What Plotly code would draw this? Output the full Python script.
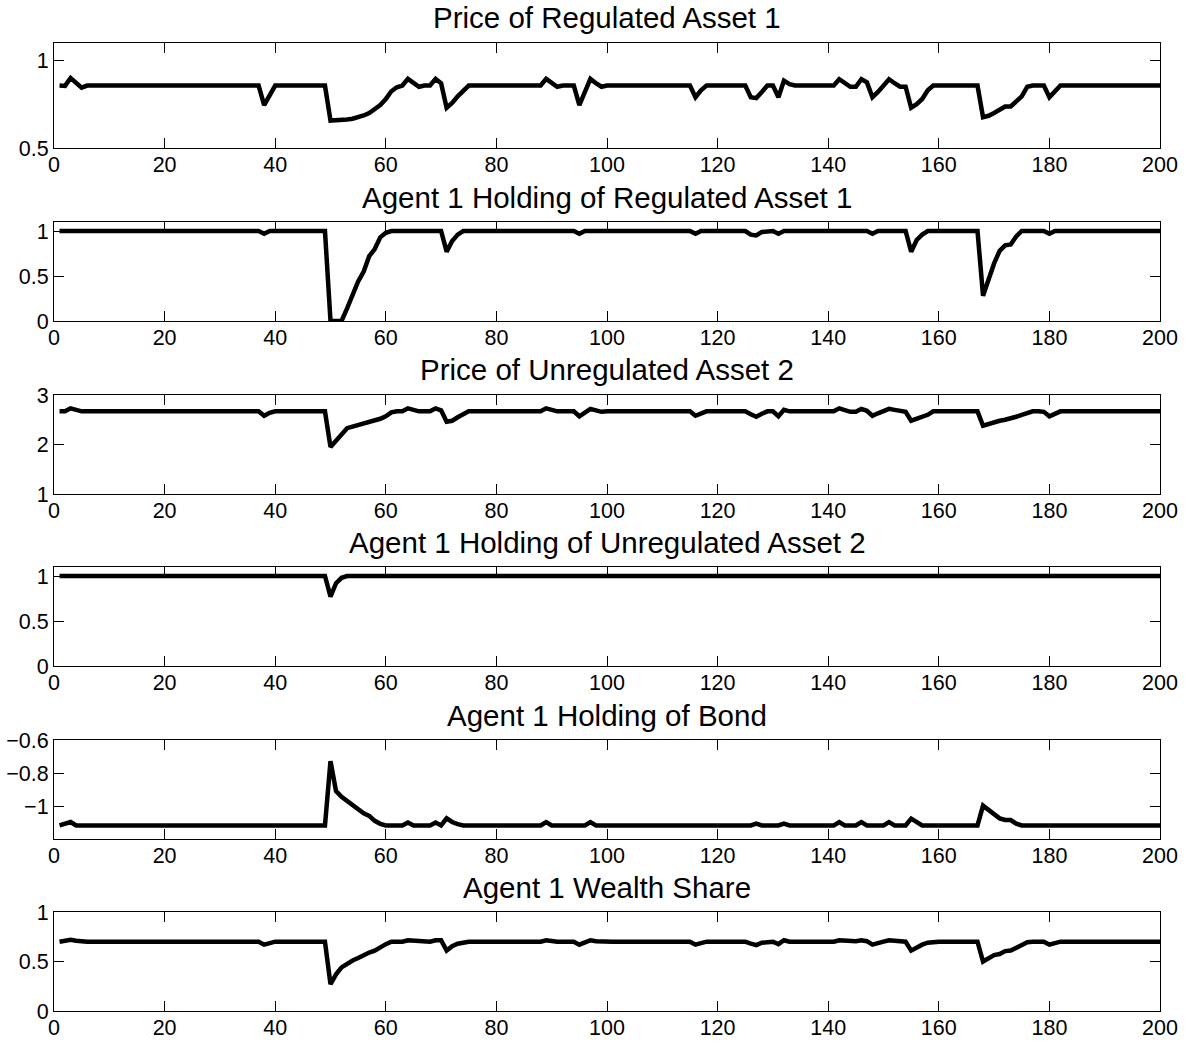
import plotly.graph_objects as go

# Time index of the simulation
periods = list(range(1, 201))

reg_price = [
    0.857, 0.855, 0.900, 0.875, 0.845, 0.857, 0.857, 0.857, 0.857, 0.857,
    0.857, 0.857, 0.857, 0.857, 0.857, 0.857, 0.857, 0.857, 0.857, 0.857,
    0.857, 0.857, 0.857, 0.857, 0.857, 0.857, 0.857, 0.857, 0.857, 0.857,
    0.857, 0.857, 0.857, 0.857, 0.857, 0.857, 0.857, 0.745, 0.800, 0.857,
    0.857, 0.857, 0.857, 0.857, 0.857, 0.857, 0.857, 0.857, 0.857, 0.657,
    0.657, 0.661, 0.663, 0.667, 0.674, 0.686, 0.700, 0.722, 0.745, 0.780,
    0.824, 0.847, 0.857, 0.895, 0.872, 0.850, 0.857, 0.857, 0.895, 0.870,
    0.730, 0.757, 0.795, 0.830, 0.857, 0.857, 0.857, 0.857, 0.857, 0.857,
    0.857, 0.857, 0.857, 0.857, 0.857, 0.857, 0.857, 0.857, 0.895, 0.875,
    0.850, 0.857, 0.857, 0.857, 0.745, 0.820, 0.895, 0.870, 0.850, 0.857,
    0.857, 0.857, 0.857, 0.857, 0.857, 0.857, 0.857, 0.857, 0.857, 0.857,
    0.857, 0.857, 0.857, 0.857, 0.857, 0.790, 0.830, 0.857, 0.857, 0.857,
    0.857, 0.857, 0.857, 0.857, 0.857, 0.790, 0.785, 0.820, 0.857, 0.857,
    0.790, 0.885, 0.865, 0.857, 0.857, 0.857, 0.857, 0.857, 0.857, 0.857,
    0.857, 0.893, 0.870, 0.850, 0.850, 0.893, 0.875, 0.790, 0.820, 0.857,
    0.893, 0.870, 0.850, 0.850, 0.730, 0.750, 0.780, 0.830, 0.857, 0.857,
    0.857, 0.857, 0.857, 0.857, 0.857, 0.857, 0.857, 0.676, 0.684, 0.700,
    0.715, 0.737, 0.737, 0.766, 0.795, 0.850, 0.857, 0.857, 0.857, 0.790,
    0.820, 0.857, 0.857, 0.857, 0.857, 0.857, 0.857, 0.857, 0.857, 0.857,
    0.857, 0.857, 0.857, 0.857, 0.857, 0.857, 0.857, 0.857, 0.857, 0.857,
]

reg_holding = [
    1.00, 1.00, 1.00, 1.00, 1.00, 1.00, 1.00, 1.00, 1.00, 1.00,
    1.00, 1.00, 1.00, 1.00, 1.00, 1.00, 1.00, 1.00, 1.00, 1.00,
    1.00, 1.00, 1.00, 1.00, 1.00, 1.00, 1.00, 1.00, 1.00, 1.00,
    1.00, 1.00, 1.00, 1.00, 1.00, 1.00, 1.00, 0.97, 1.00, 1.00,
    1.00, 1.00, 1.00, 1.00, 1.00, 1.00, 1.00, 1.00, 1.00, 0.00,
    0.00, 0.00, 0.14, 0.29, 0.44, 0.55, 0.72, 0.80, 0.93, 0.98,
    1.00, 1.00, 1.00, 1.00, 1.00, 1.00, 1.00, 1.00, 1.00, 1.00,
    0.77, 0.89, 0.96, 1.00, 1.00, 1.00, 1.00, 1.00, 1.00, 1.00,
    1.00, 1.00, 1.00, 1.00, 1.00, 1.00, 1.00, 1.00, 1.00, 1.00,
    1.00, 1.00, 1.00, 1.00, 0.97, 1.00, 1.00, 1.00, 1.00, 1.00,
    1.00, 1.00, 1.00, 1.00, 1.00, 1.00, 1.00, 1.00, 1.00, 1.00,
    1.00, 1.00, 1.00, 1.00, 1.00, 0.97, 1.00, 1.00, 1.00, 1.00,
    1.00, 1.00, 1.00, 1.00, 1.00, 0.96, 0.95, 0.99, 1.00, 1.00,
    0.97, 1.00, 1.00, 1.00, 1.00, 1.00, 1.00, 1.00, 1.00, 1.00,
    1.00, 1.00, 1.00, 1.00, 1.00, 1.00, 1.00, 0.97, 1.00, 1.00,
    1.00, 1.00, 1.00, 1.00, 0.77, 0.90, 0.96, 1.00, 1.00, 1.00,
    1.00, 1.00, 1.00, 1.00, 1.00, 1.00, 1.00, 0.28, 0.46, 0.64,
    0.78, 0.84, 0.85, 0.94, 1.00, 1.00, 1.00, 1.00, 1.00, 0.97,
    1.00, 1.00, 1.00, 1.00, 1.00, 1.00, 1.00, 1.00, 1.00, 1.00,
    1.00, 1.00, 1.00, 1.00, 1.00, 1.00, 1.00, 1.00, 1.00, 1.00,
]

unreg_price = [
    2.67, 2.67, 2.73, 2.70, 2.67, 2.67, 2.67, 2.67, 2.67, 2.67,
    2.67, 2.67, 2.67, 2.67, 2.67, 2.67, 2.67, 2.67, 2.67, 2.67,
    2.67, 2.67, 2.67, 2.67, 2.67, 2.67, 2.67, 2.67, 2.67, 2.67,
    2.67, 2.67, 2.67, 2.67, 2.67, 2.67, 2.67, 2.58, 2.64, 2.67,
    2.67, 2.67, 2.67, 2.67, 2.67, 2.67, 2.67, 2.67, 2.67, 1.95,
    2.09, 2.20, 2.33, 2.36, 2.40, 2.43, 2.46, 2.49, 2.52, 2.57,
    2.65, 2.67, 2.67, 2.73, 2.70, 2.67, 2.67, 2.67, 2.73, 2.69,
    2.46, 2.48, 2.55, 2.60, 2.67, 2.67, 2.67, 2.67, 2.67, 2.67,
    2.67, 2.67, 2.67, 2.67, 2.67, 2.67, 2.67, 2.67, 2.73, 2.69,
    2.67, 2.67, 2.67, 2.67, 2.57, 2.64, 2.72, 2.69, 2.66, 2.67,
    2.67, 2.67, 2.67, 2.67, 2.67, 2.67, 2.67, 2.67, 2.67, 2.67,
    2.67, 2.67, 2.67, 2.67, 2.67, 2.58, 2.63, 2.67, 2.67, 2.67,
    2.67, 2.67, 2.67, 2.67, 2.67, 2.61, 2.56, 2.62, 2.67, 2.67,
    2.57, 2.70, 2.67, 2.67, 2.67, 2.67, 2.67, 2.67, 2.67, 2.67,
    2.67, 2.73, 2.70, 2.66, 2.66, 2.72, 2.68, 2.58, 2.63, 2.67,
    2.72, 2.70, 2.68, 2.66, 2.48, 2.52, 2.58, 2.60, 2.67, 2.67,
    2.67, 2.67, 2.67, 2.67, 2.67, 2.67, 2.67, 2.38, 2.42, 2.45,
    2.48, 2.50, 2.52, 2.56, 2.60, 2.63, 2.67, 2.67, 2.66, 2.57,
    2.63, 2.67, 2.67, 2.67, 2.67, 2.67, 2.67, 2.67, 2.67, 2.67,
    2.67, 2.67, 2.67, 2.67, 2.67, 2.67, 2.67, 2.67, 2.67, 2.67,
]

unreg_holding = [
    1.00, 1.00, 1.00, 1.00, 1.00, 1.00, 1.00, 1.00, 1.00, 1.00,
    1.00, 1.00, 1.00, 1.00, 1.00, 1.00, 1.00, 1.00, 1.00, 1.00,
    1.00, 1.00, 1.00, 1.00, 1.00, 1.00, 1.00, 1.00, 1.00, 1.00,
    1.00, 1.00, 1.00, 1.00, 1.00, 1.00, 1.00, 1.00, 1.00, 1.00,
    1.00, 1.00, 1.00, 1.00, 1.00, 1.00, 1.00, 1.00, 1.00, 0.77,
    0.92, 0.98, 1.00, 1.00, 1.00, 1.00, 1.00, 1.00, 1.00, 1.00,
    1.00, 1.00, 1.00, 1.00, 1.00, 1.00, 1.00, 1.00, 1.00, 1.00,
    1.00, 1.00, 1.00, 1.00, 1.00, 1.00, 1.00, 1.00, 1.00, 1.00,
    1.00, 1.00, 1.00, 1.00, 1.00, 1.00, 1.00, 1.00, 1.00, 1.00,
    1.00, 1.00, 1.00, 1.00, 1.00, 1.00, 1.00, 1.00, 1.00, 1.00,
    1.00, 1.00, 1.00, 1.00, 1.00, 1.00, 1.00, 1.00, 1.00, 1.00,
    1.00, 1.00, 1.00, 1.00, 1.00, 1.00, 1.00, 1.00, 1.00, 1.00,
    1.00, 1.00, 1.00, 1.00, 1.00, 1.00, 1.00, 1.00, 1.00, 1.00,
    1.00, 1.00, 1.00, 1.00, 1.00, 1.00, 1.00, 1.00, 1.00, 1.00,
    1.00, 1.00, 1.00, 1.00, 1.00, 1.00, 1.00, 1.00, 1.00, 1.00,
    1.00, 1.00, 1.00, 1.00, 1.00, 1.00, 1.00, 1.00, 1.00, 1.00,
    1.00, 1.00, 1.00, 1.00, 1.00, 1.00, 1.00, 1.00, 1.00, 1.00,
    1.00, 1.00, 1.00, 1.00, 1.00, 1.00, 1.00, 1.00, 1.00, 1.00,
    1.00, 1.00, 1.00, 1.00, 1.00, 1.00, 1.00, 1.00, 1.00, 1.00,
    1.00, 1.00, 1.00, 1.00, 1.00, 1.00, 1.00, 1.00, 1.00, 1.00,
]

bond_holding = [
    -1.118, -1.110, -1.097, -1.118, -1.118, -1.118, -1.118, -1.118, -1.118, -1.118,
    -1.118, -1.118, -1.118, -1.118, -1.118, -1.118, -1.118, -1.118, -1.118, -1.118,
    -1.118, -1.118, -1.118, -1.118, -1.118, -1.118, -1.118, -1.118, -1.118, -1.118,
    -1.118, -1.118, -1.118, -1.118, -1.118, -1.118, -1.118, -1.118, -1.118, -1.118,
    -1.118, -1.118, -1.118, -1.118, -1.118, -1.118, -1.118, -1.118, -1.118, -0.728,
    -0.910, -0.945, -0.970, -0.995, -1.020, -1.045, -1.060, -1.090, -1.108, -1.118,
    -1.118, -1.118, -1.118, -1.100, -1.118, -1.118, -1.118, -1.118, -1.100, -1.118,
    -1.075, -1.097, -1.110, -1.118, -1.118, -1.118, -1.118, -1.118, -1.118, -1.118,
    -1.118, -1.118, -1.118, -1.118, -1.118, -1.118, -1.118, -1.118, -1.098, -1.118,
    -1.118, -1.118, -1.118, -1.118, -1.118, -1.118, -1.098, -1.118, -1.118, -1.118,
    -1.118, -1.118, -1.118, -1.118, -1.118, -1.118, -1.118, -1.118, -1.118, -1.118,
    -1.118, -1.118, -1.118, -1.118, -1.118, -1.118, -1.118, -1.118, -1.118, -1.118,
    -1.118, -1.118, -1.118, -1.118, -1.118, -1.118, -1.107, -1.118, -1.118, -1.118,
    -1.118, -1.107, -1.118, -1.118, -1.118, -1.118, -1.118, -1.118, -1.118, -1.118,
    -1.118, -1.098, -1.118, -1.118, -1.118, -1.098, -1.118, -1.118, -1.118, -1.118,
    -1.098, -1.118, -1.118, -1.118, -1.077, -1.100, -1.118, -1.118, -1.118, -1.118,
    -1.118, -1.118, -1.118, -1.118, -1.118, -1.118, -1.118, -0.998, -1.025, -1.050,
    -1.075, -1.085, -1.085, -1.107, -1.118, -1.118, -1.118, -1.118, -1.118, -1.118,
    -1.118, -1.118, -1.118, -1.118, -1.118, -1.118, -1.118, -1.118, -1.118, -1.118,
    -1.118, -1.118, -1.118, -1.118, -1.118, -1.118, -1.118, -1.118, -1.118, -1.118,
]

wealth_share = [
    0.700, 0.715, 0.720, 0.710, 0.700, 0.700, 0.700, 0.700, 0.700, 0.700,
    0.700, 0.700, 0.700, 0.700, 0.700, 0.700, 0.700, 0.700, 0.700, 0.700,
    0.700, 0.700, 0.700, 0.700, 0.700, 0.700, 0.700, 0.700, 0.700, 0.700,
    0.700, 0.700, 0.700, 0.700, 0.700, 0.700, 0.700, 0.670, 0.685, 0.700,
    0.700, 0.700, 0.700, 0.700, 0.700, 0.700, 0.700, 0.700, 0.700, 0.270,
    0.370, 0.440, 0.480, 0.510, 0.535, 0.565, 0.590, 0.610, 0.645, 0.675,
    0.700, 0.700, 0.700, 0.715, 0.710, 0.700, 0.700, 0.700, 0.715, 0.715,
    0.610, 0.655, 0.680, 0.695, 0.700, 0.700, 0.700, 0.700, 0.700, 0.700,
    0.700, 0.700, 0.700, 0.700, 0.700, 0.700, 0.700, 0.700, 0.715, 0.705,
    0.700, 0.700, 0.700, 0.700, 0.670, 0.690, 0.715, 0.705, 0.700, 0.700,
    0.700, 0.700, 0.700, 0.700, 0.700, 0.700, 0.700, 0.700, 0.700, 0.700,
    0.700, 0.700, 0.700, 0.700, 0.700, 0.670, 0.690, 0.700, 0.700, 0.700,
    0.700, 0.700, 0.700, 0.700, 0.700, 0.680, 0.665, 0.690, 0.700, 0.700,
    0.675, 0.715, 0.700, 0.700, 0.700, 0.700, 0.700, 0.700, 0.700, 0.700,
    0.700, 0.715, 0.710, 0.700, 0.705, 0.715, 0.705, 0.670, 0.690, 0.700,
    0.715, 0.710, 0.705, 0.700, 0.610, 0.645, 0.670, 0.690, 0.700, 0.700,
    0.700, 0.700, 0.700, 0.700, 0.700, 0.700, 0.700, 0.500, 0.535, 0.565,
    0.575, 0.605, 0.610, 0.640, 0.660, 0.695, 0.700, 0.700, 0.700, 0.670,
    0.690, 0.700, 0.700, 0.700, 0.700, 0.700, 0.700, 0.700, 0.700, 0.700,
    0.700, 0.700, 0.700, 0.700, 0.700, 0.700, 0.700, 0.700, 0.700, 0.700,
]

titles = [
    "Price of Regulated Asset 1",
    "Agent 1 Holding of Regulated Asset 1",
    "Price of Unregulated Asset 2",
    "Agent 1 Holding of Unregulated Asset 2",
    "Agent 1 Holding of Bond",
    "Agent 1 Wealth Share",
]
series = [reg_price, reg_holding, unreg_price, unreg_holding, bond_holding, wealth_share]
y_ranges = [[0.5, 1.1], [0, 1.1], [1, 3], [0, 1.1], [-1.2, -0.6], [0, 1]]
y_ticks = [[0.5, 1], [0, 0.5, 1], [1, 2, 3], [0, 0.5, 1], [-1, -0.8, -0.6], [0, 0.5, 1]]
y_ticktext = [["0.5", "1"], ["0", "0.5", "1"], ["1", "2", "3"], ["0", "0.5", "1"],
              ["\u22121", "\u22120.8", "\u22120.6"], ["0", "0.5", "1"]]
x_ticks = [0, 20, 40, 60, 80, 100, 120, 140, 160, 180, 200]

W, H = 1188, 1046
FONT = "Liberation Sans, Arial, Helvetica, sans-serif"
# panel boxes in pixels: (top, bottom)
panel_px = [(43, 148), (222, 321), (395, 494), (567, 666), (740, 839), (912, 1011)]
x_left, x_right = 54, 1160

fig = go.Figure()
layout = dict(
    width=W, height=H,
    margin=dict(l=0, r=0, t=0, b=0, autoexpand=False),
    paper_bgcolor="white", plot_bgcolor="white",
    showlegend=False,
    font=dict(family=FONT, color="black", size=21.5),
    annotations=[],
)

axis_common = dict(
    showline=True, linecolor="black", linewidth=1.2, mirror="ticks",
    ticks="inside", ticklen=10, tickwidth=1.2, tickcolor="black",
    showgrid=False, zeroline=False, automargin=False,
    tickfont=dict(family=FONT, size=21.5, color="black"),
)

for i, (vals, title) in enumerate(zip(series, titles)):
    n = i + 1
    xa = "x" if n == 1 else f"x{n}"
    ya = "y" if n == 1 else f"y{n}"
    top, bottom = panel_px[i]
    fig.add_trace(go.Scatter(
        x=periods, y=vals, mode="lines",
        line=dict(color="black", width=4.5),
        xaxis=xa, yaxis=ya, hoverinfo="skip",
    ))
    layout["xaxis" if n == 1 else f"xaxis{n}"] = dict(
        axis_common,
        domain=[x_left / W, x_right / W],
        range=[0, 200], tickvals=x_ticks,
        ticklabelstandoff=-3,
        anchor=ya,
    )
    layout["yaxis" if n == 1 else f"yaxis{n}"] = dict(
        axis_common,
        domain=[1 - bottom / H, 1 - top / H],
        range=y_ranges[i], tickvals=y_ticks[i], ticktext=y_ticktext[i],
        anchor=xa,
    )
    layout["annotations"].append(dict(
        text=title, showarrow=False,
        xref="paper", yref="paper",
        x=(x_left + x_right) / 2 / W, y=1 - (top - 25) / H,
        xanchor="center", yanchor="middle",
        font=dict(family=FONT, size=29.5, color="black"),
    ))

fig.update_layout(**layout)
fig.write_html("out.html")
